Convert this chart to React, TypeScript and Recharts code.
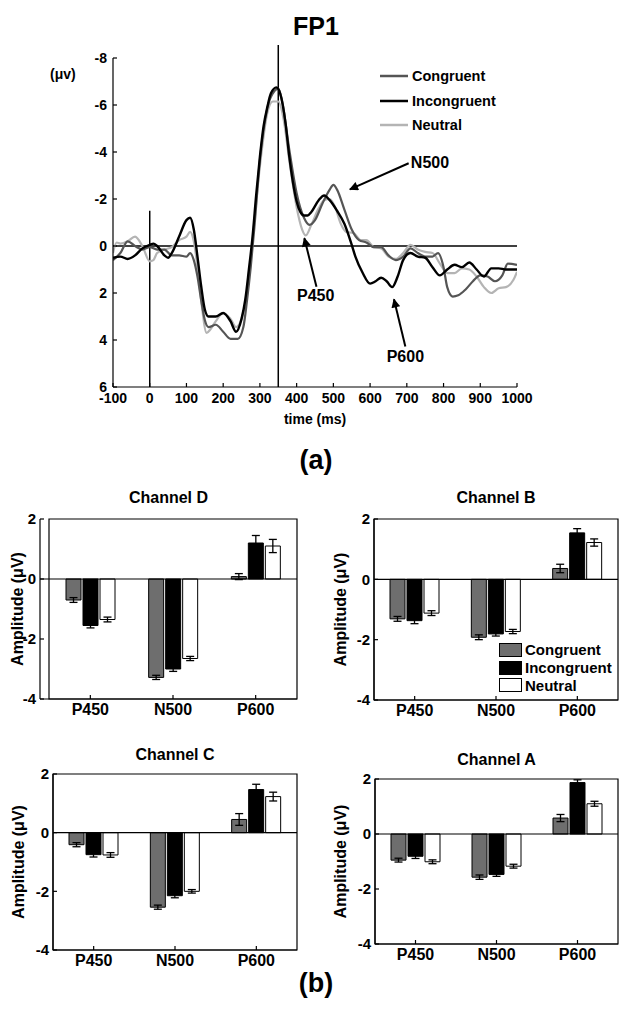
import React from 'react';
import {
    LineChart,
    Line,
    BarChart,
    Bar,
    ErrorBar,
    XAxis,
    YAxis,
    ReferenceLine,
    ReferenceDot,
    ReferenceArea,
} from 'recharts';

const FONT = '"Liberation Sans", Arial, Helvetica, sans-serif';

// FP1 grand-average waveforms (µV, negative plotted up)
const congruentTime = [-100, -80, -60, -40, -20, 0, 20, 40, 60, 80, 100, 110, 120, 130, 140, 150, 160, 180, 200, 220, 240, 255, 265, 275, 285, 300, 320, 340, 350, 360, 380, 400, 420, 435, 450, 470, 490, 500, 510, 530, 550, 570, 590, 610, 630, 650, 670, 690, 710, 730, 750, 770, 785, 800, 810, 825, 840, 860, 880, 900, 920, 940, 960, 975, 1000];
const congruentAmp = [0.6, 0.3, -0.2, 0, 0.15, 0.05, 0.15, 0.15, 0.4, 0.4, 0.45, 0.3, 0.6, 1.3, 2.3, 3.15, 3.45, 3.35, 3.65, 3.95, 3.95, 3.45, 2.3, 0.9, -0.8, -3.65, -5.85, -6.6, -6.7, -6.2, -4.1, -2.25, -1.2, -0.9, -1.1, -1.8, -2.4, -2.6, -2.4, -1.55, -0.7, -0.25, -0.15, 0.05, 0.05, 0.4, 0.6, 0.45, 0.1, 0.3, 0.45, 0.45, 0.3, 0.9, 1.75, 2.15, 2.1, 1.85, 1.5, 1.25, 1.3, 1.5, 1.25, 0.75, 0.8];

const incongruentTime = [-100, -80, -60, -40, -20, 0, 10, 20, 40, 50, 60, 80, 100, 110, 120, 130, 140, 150, 160, 180, 200, 220, 235, 250, 260, 270, 280, 290, 300, 310, 320, 330, 345, 355, 370, 380, 390, 400, 410, 420, 430, 440, 460, 475, 490, 510, 530, 550, 560, 580, 600, 615, 630, 645, 660, 675, 690, 710, 730, 750, 770, 790, 810, 830, 850, 870, 890, 910, 930, 950, 970, 1000];
const incongruentAmp = [0.5, 0.45, 0.55, 0.4, 0.1, -0.05, -0.1, 0, 0.4, 0.5, 0.3, -0.4, -1.1, -1.2, -0.7, 0.45, 1.7, 2.7, 3.0, 3.0, 2.85, 3.2, 3.65, 3.1, 2.3, 1.0, -0.4, -2.2, -3.8, -5.1, -5.9, -6.5, -6.75, -6.5, -5.2, -3.8, -2.7, -1.9, -1.45, -1.3, -1.3, -1.45, -1.95, -2.15, -1.95, -1.5, -0.95, -0.05, 0.45, 1.15, 1.6, 1.5, 1.35, 1.5, 1.75, 1.3, 0.6, 0.3, 0.45, 0.5, 0.9, 1.25, 1.0, 0.8, 0.9, 0.7, 1.0, 1.3, 0.95, 0.95, 1.0, 1.0];

const neutralTime = [-100, -90, -80, -60, -40, -20, 0, 10, 20, 40, 60, 80, 100, 110, 120, 130, 140, 155, 165, 180, 200, 220, 235, 250, 265, 280, 300, 320, 335, 350, 365, 380, 400, 415, 425, 440, 460, 475, 490, 505, 520, 535, 555, 575, 590, 610, 630, 650, 670, 690, 710, 730, 750, 770, 790, 810, 830, 850, 870, 890, 910, 930, 950, 970, 990, 1000];
const neutralAmp = [0.3, -0.15, -0.1, -0.2, -0.4, 0, 0.65, 0.6, 0.3, 0.15, 0.05, -0.25, -0.4, -0.6, -0.2, 0.9, 2.3, 3.7, 3.55, 3.2, 2.85, 3.1, 3.45, 3.1, 2.0, -0.25, -3.4, -5.65, -6.15, -6.15, -5.35, -3.65, -1.65, -0.7, -0.45, -0.9, -1.6, -1.95, -2.0, -1.65, -0.95, -0.6, -0.55, -0.25, -0.25, 0.05, 0.1, 0.45, 0.55, 0.3, -0.05, 0.15, 0.25, 0.3, 0.75, 1.15, 1.15, 0.95, 1.0, 1.3, 1.75, 2.0, 1.8, 1.75, 1.45, 1.1];

const timeTicks = [-100, 0, 100, 200, 300, 400, 500, 600, 700, 800, 900, 1000];
const ampTicks = [-8, -6, -4, -2, 0, 2, 4, 6];

// bar panels
const components = ['P450', 'N500', 'P600'];
const barTicks = [-4, -2, 0, 2];

const chDCongruent = [-0.7, -3.28, 0.08];
const chDCongruentErr = [0.08, 0.07, 0.1];
const chDIncongruent = [-1.55, -3.0, 1.2];
const chDIncongruentErr = [0.08, 0.08, 0.25];
const chDNeutral = [-1.35, -2.65, 1.1];
const chDNeutralErr = [0.08, 0.07, 0.22];

const chBCongruent = [-1.31, -1.92, 0.36];
const chBCongruentErr = [0.08, 0.08, 0.14];
const chBIncongruent = [-1.37, -1.81, 1.54];
const chBIncongruentErr = [0.1, 0.07, 0.14];
const chBNeutral = [-1.12, -1.73, 1.22];
const chBNeutralErr = [0.08, 0.07, 0.12];

const chCCongruent = [-0.41, -2.54, 0.45];
const chCCongruentErr = [0.07, 0.07, 0.2];
const chCIncongruent = [-0.75, -2.15, 1.47];
const chCIncongruentErr = [0.08, 0.07, 0.18];
const chCNeutral = [-0.76, -2.0, 1.23];
const chCNeutralErr = [0.08, 0.06, 0.15];

const chACongruent = [-0.95, -1.57, 0.58];
const chACongruentErr = [0.07, 0.08, 0.13];
const chAIncongruent = [-0.81, -1.47, 1.87];
const chAIncongruentErr = [0.08, 0.07, 0.1];
const chANeutral = [-1.01, -1.17, 1.1];
const chANeutralErr = [0.07, 0.07, 0.09];

const toSeries = (times: number[], amps: number[]) => times.map((t, i) => ({ t, v: amps[i] }));

const buildBars = (c: number[], ce: number[], ic: number[], ice: number[], n: number[], ne: number[]) =>
    components.map((name, i) => ({
        name,
        cong: c[i],
        congErr: ce[i],
        incong: ic[i],
        incongErr: ice[i],
        neutral: n[i],
        neutralErr: ne[i],
    }));

const CONG_LINE = '#555555';
const NEUTRAL_LINE = '#b4b4b4';
const CONG_BAR = '#6e6e6e';

const tickStyle = (size: number) => ({ fill: '#000', fontSize: size, fontWeight: 'bold', fontFamily: FONT });

const arrowShape = (p: any) => (
    <line x1={p.x1} y1={p.y1} x2={p.x2} y2={p.y2} stroke="#000" strokeWidth={2} markerEnd="url(#arrowHead)" />
);

const annotation = (value: string) => ({
    value,
    position: 'center' as const,
    fill: '#000',
    fontSize: 16,
    fontWeight: 'bold',
    fontFamily: FONT,
});

function WaveChart() {
    const congruent = toSeries(congruentTime, congruentAmp);
    const incongruent = toSeries(incongruentTime, incongruentAmp);
    const neutral = toSeries(neutralTime, neutralAmp);

    return (
        <div style={{ position: 'absolute', left: 0, top: 0 }}>
            <LineChart width={619} height={440} margin={{ top: 58, right: 102, left: 73, bottom: 8 }}>
                <XAxis
                    dataKey="t"
                    type="number"
                    domain={[-100, 1000]}
                    ticks={timeTicks}
                    allowDataOverflow
                    height={45}
                    tickSize={-4}
                    tickMargin={10}
                    stroke="#000"
                    strokeWidth={1.2}
                    tick={tickStyle(14)}
                    label={{ value: 'time (ms)', position: 'insideBottom', offset: 8, ...tickStyle(14) }}
                />
                <YAxis
                    type="number"
                    domain={[-8, 6]}
                    ticks={ampTicks}
                    reversed
                    allowDataOverflow
                    width={40}
                    tickSize={-4}
                    tickMargin={10}
                    stroke="#000"
                    strokeWidth={1.2}
                    tick={tickStyle(14)}
                />
                <ReferenceLine y={0} stroke="#000" strokeWidth={1.5} />
                <ReferenceLine segment={[{ x: 0, y: -1.5 }, { x: 0, y: 6 }]} stroke="#000" strokeWidth={1.5} />
                <ReferenceLine
                    segment={[{ x: 350, y: -8.55 }, { x: 350, y: 6 }]}
                    stroke="#000"
                    strokeWidth={1.5}
                    ifOverflow="visible"
                />
                <Line data={neutral} dataKey="v" type="monotone" stroke={NEUTRAL_LINE} strokeWidth={2.2} dot={false} isAnimationActive={false} />
                <Line data={congruent} dataKey="v" type="monotone" stroke={CONG_LINE} strokeWidth={2.2} dot={false} isAnimationActive={false} />
                <Line data={incongruent} dataKey="v" type="monotone" stroke="#000" strokeWidth={2.4} dot={false} isAnimationActive={false} />
                <ReferenceLine segment={[{ x: 705, y: -3.52 }, { x: 545, y: -2.41 }]} shape={arrowShape} />
                <ReferenceLine segment={[{ x: 454, y: 1.73 }, { x: 421, y: -0.33 }]} shape={arrowShape} />
                <ReferenceLine segment={[{ x: 696, y: 4.28 }, { x: 665, y: 2.27 }]} shape={arrowShape} />
                <ReferenceDot x={763} y={-3.55} r={0} fill="none" stroke="none" label={annotation('N500')} />
                <ReferenceDot x={452} y={2.09} r={0} fill="none" stroke="none" label={annotation('P450')} />
                <ReferenceDot x={696} y={4.68} r={0} fill="none" stroke="none" label={annotation('P600')} />
            </LineChart>
            <div style={{ position: 'absolute', left: 50, top: 66, fontFamily: FONT, fontWeight: 'bold', fontSize: 14 }}>(μv)</div>
            <div style={{ position: 'absolute', left: 380, top: 64, fontFamily: FONT, fontWeight: 'bold', fontSize: 14.5 }}>
                {[
                    { name: 'Congruent', color: CONG_LINE },
                    { name: 'Incongruent', color: '#000' },
                    { name: 'Neutral', color: NEUTRAL_LINE },
                ].map((s) => (
                    <div key={s.name} style={{ display: 'flex', alignItems: 'center', height: 24.5 }}>
                        <svg width={28} height={6} style={{ marginRight: 4 }}>
                            <line x1={0} y1={3} x2={28} y2={3} stroke={s.color} strokeWidth={2.5} />
                        </svg>
                        <span>{s.name}</span>
                    </div>
                ))}
            </div>
        </div>
    );
}

interface PanelProps {
    title: string;
    data: ReturnType<typeof buildBars>;
    x0: number;
    x1: number;
    y0: number;
    y1: number;
    labelX: number;
    titleY: number;
    padLeft: number;
    showLegend?: boolean;
}

function ChannelPanel({ title, data, x0, x1, y0, y1, labelX, titleY, padLeft, showLegend }: PanelProps) {
    const yw = 2 * (x0 - labelX);
    const left = x0 - yw;
    const top = y0 - 10;
    const width = yw + (x1 - x0) + 2;
    const height = y1 - y0 + 40;
    const barStroke = { stroke: '#000', strokeWidth: 1 };
    const err = { width: 4, stroke: '#000', strokeWidth: 1.3, isAnimationActive: false };

    return (
        <>
            <div
                style={{
                    position: 'absolute',
                    left: x0,
                    width: x1 - x0,
                    top: titleY - 10,
                    textAlign: 'center',
                    fontFamily: FONT,
                    fontWeight: 'bold',
                    fontSize: 16,
                    lineHeight: '20px',
                }}
            >
                {title}
            </div>
            <div style={{ position: 'absolute', left, top }}>
                <BarChart width={width} height={height} data={data} margin={{ top: 10, right: 2, left: 0, bottom: 0 }} barSize={15} barGap={2}>
                    <XAxis
                        dataKey="name"
                        height={30}
                        padding={{ left: padLeft, right: 0 }}
                        tickSize={-4}
                        tickMargin={9}
                        stroke="#000"
                        strokeWidth={1.2}
                        tick={tickStyle(16)}
                    />
                    <YAxis
                        type="number"
                        domain={[-4, 2]}
                        ticks={barTicks}
                        width={yw}
                        tickSize={-4}
                        tickMargin={8}
                        stroke="#000"
                        strokeWidth={1.2}
                        tick={tickStyle(15)}
                        label={{ value: 'Amplitude (μV)', angle: -90, position: 'center', dx: -3, ...tickStyle(16) }}
                    />
                    <ReferenceArea y1={-4} y2={2} fill="none" stroke="#000" strokeWidth={1.2} ifOverflow="visible" />
                    <Bar dataKey="cong" fill={CONG_BAR} {...barStroke} isAnimationActive={false}>
                        <ErrorBar dataKey="congErr" {...err} />
                    </Bar>
                    <Bar dataKey="incong" fill="#000" {...barStroke} isAnimationActive={false}>
                        <ErrorBar dataKey="incongErr" {...err} />
                    </Bar>
                    <Bar dataKey="neutral" fill="#fff" {...barStroke} isAnimationActive={false}>
                        <ErrorBar dataKey="neutralErr" {...err} />
                    </Bar>
                    <ReferenceLine y={0} stroke="#000" strokeWidth={1.2} />
                </BarChart>
            </div>
            {showLegend && (
                <div style={{ position: 'absolute', left: 499, top: 641, fontFamily: FONT, fontWeight: 'bold', fontSize: 15 }}>
                    {[
                        { name: 'Congruent', color: CONG_BAR },
                        { name: 'Incongruent', color: '#000' },
                        { name: 'Neutral', color: '#fff' },
                    ].map((s) => (
                        <div key={s.name} style={{ display: 'flex', alignItems: 'center', height: 17.7 }}>
                            <div style={{ width: 21, height: 12, background: s.color, border: '1px solid #000', marginRight: 3 }} />
                            <span>{s.name}</span>
                        </div>
                    ))}
                </div>
            )}
        </>
    );
}

export default function App() {
    const chD = buildBars(chDCongruent, chDCongruentErr, chDIncongruent, chDIncongruentErr, chDNeutral, chDNeutralErr);
    const chB = buildBars(chBCongruent, chBCongruentErr, chBIncongruent, chBIncongruentErr, chBNeutral, chBNeutralErr);
    const chC = buildBars(chCCongruent, chCCongruentErr, chCIncongruent, chCIncongruentErr, chCNeutral, chCNeutralErr);
    const chA = buildBars(chACongruent, chACongruentErr, chAIncongruent, chAIncongruentErr, chANeutral, chANeutralErr);

    const big = { position: 'absolute' as const, left: 0, width: 632, textAlign: 'center' as const, fontFamily: FONT, fontWeight: 'bold' as const };

    return (
        <div style={{ position: 'absolute', left: 0, top: 0, width: 619, height: 1016, background: '#fff', overflow: 'hidden' }}>
            <svg width={0} height={0} style={{ position: 'absolute' }}>
                <defs>
                    <marker id="arrowHead" viewBox="0 0 10 10" refX="9" refY="5" markerWidth="5" markerHeight="4.5" orient="auto">
                        <path d="M0,0 L10,5 L0,10 z" fill="#000" />
                    </marker>
                </defs>
            </svg>
            <div style={{ ...big, top: 12, fontSize: 25 }}>FP1</div>
            <WaveChart />
            <div style={{ ...big, top: 445, fontSize: 27 }}>(a)</div>
            <ChannelPanel title="Channel D" data={chD} x0={40} x1={297} y0={519} y1={699} labelX={20} titleY={498} padLeft={9} />
            <ChannelPanel title="Channel B" data={chB} x0={374} x1={618} y0={519} y1={700} labelX={343} titleY={498} padLeft={0} showLegend />
            <ChannelPanel title="Channel C" data={chC} x0={53} x1={297} y0={774} y1={950} labelX={21} titleY={755} padLeft={0} />
            <ChannelPanel title="Channel A" data={chA} x0={375} x1={618} y0={779} y1={944} labelX={343} titleY={760} padLeft={0} />
            <div style={{ ...big, top: 968, fontSize: 27 }}>(b)</div>
        </div>
    );
}
